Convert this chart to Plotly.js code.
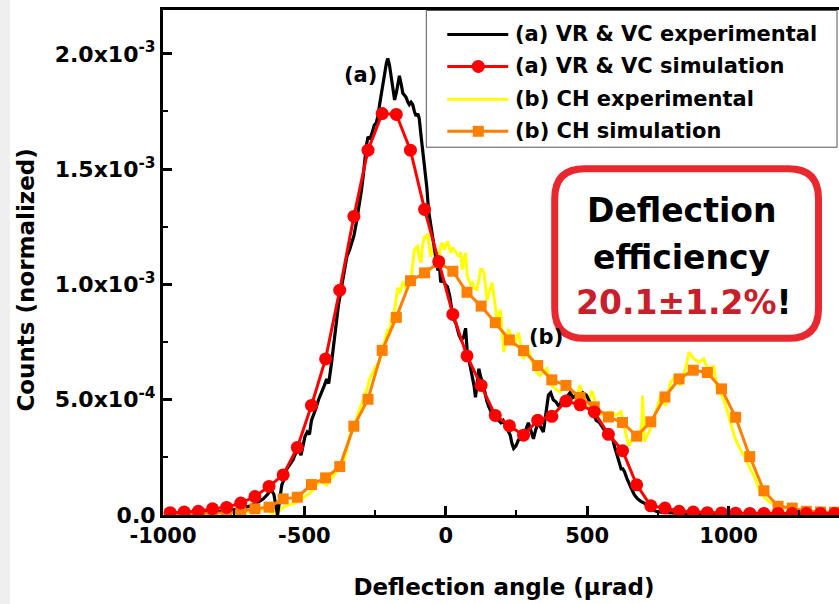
<!DOCTYPE html>
<html>
<head>
<meta charset="utf-8">
<script src="https://cdn.plot.ly/plotly-3.0.1.min.js"></script>
<style>
html,body{margin:0;padding:0;overflow:hidden;}
body{background:linear-gradient(to right,#efefef 0px,#efefef 10px,#ffffff 10px);width:839px;height:604px;}
#chart{width:845px;height:604px;}
</style>
</head>
<body>
<div id="chart"></div>
<script>
// values in units of 1e-3 (normalized counts)
const blackExp = [[-995,0.005],[-960,0.006],[-920,0.008],[-880,0.010],[-840,0.012],[-800,0.015],[-760,0.02],[-720,0.03],[-690,0.04],[-665,0.055],[-645,0.07],[-630,0.09],[-618,0.11],[-608,0.09],[-600,0.02],[-595,0.0],[-588,0.06],[-580,0.13],[-570,0.16],[-562,0.20],[-551,0.22],[-540,0.24],[-530,0.27],[-520,0.28],[-512,0.26],[-505,0.30],[-498,0.34],[-490,0.36],[-482,0.35],[-475,0.41],[-468,0.43],[-460,0.46],[-450,0.50],[-439,0.53],[-430,0.56],[-421,0.59],[-414,0.57],[-404,0.66],[-398,0.72],[-393,0.79],[-386,0.84],[-380,0.906],[-374,0.95],[-368,0.99],[-360,1.05],[-350,1.12],[-340,1.15],[-333,1.18],[-325,1.21],[-316,1.27],[-306,1.34],[-298,1.41],[-292,1.47],[-287,1.54],[-281,1.60],[-275,1.64],[-268,1.63],[-260,1.66],[-253,1.69],[-246,1.70],[-240,1.73],[-234,1.78],[-228,1.83],[-222,1.88],[-216,1.93],[-210,1.96],[-205,1.98],[-199,1.95],[-193,1.90],[-187,1.84],[-181,1.80],[-175,1.83],[-170,1.87],[-164,1.905],[-158,1.87],[-152,1.83],[-146,1.82],[-140,1.81],[-134,1.79],[-129,1.78],[-123,1.79],[-117,1.78],[-111,1.75],[-105,1.73],[-99,1.74],[-94,1.72],[-88,1.65],[-82,1.58],[-77,1.55],[-73,1.50],[-67,1.42],[-61,1.32],[-54,1.26],[-47,1.21],[-41,1.17],[-35,1.11],[-28,1.06],[-23,1.09],[-18,1.01],[-10,1.02],[-2,1.00],[6,0.99],[14,0.95],[20,0.90],[28,0.85],[36,0.83],[42,0.80],[47,0.78],[55,0.76],[63,0.77],[70,0.81],[76,0.705],[84,0.66],[94,0.605],[100,0.56],[105,0.51],[111,0.57],[117,0.634],[123,0.60],[129,0.58],[135,0.55],[140,0.52],[146,0.49],[152,0.47],[158,0.45],[164,0.43],[170,0.42],[178,0.43],[187,0.41],[195,0.40],[203,0.41],[211,0.39],[220,0.37],[228,0.346],[234,0.31],[240,0.289],[248,0.30],[257,0.325],[266,0.33],[275,0.346],[283,0.37],[292,0.40],[300,0.37],[310,0.33],[318,0.37],[327,0.40],[336,0.38],[345,0.36],[354,0.44],[363,0.52],[371,0.53],[380,0.50],[390,0.49],[400,0.47],[408,0.49],[415,0.50],[427,0.51],[439,0.53],[450,0.51],[462,0.52],[474,0.50],[485,0.53],[497,0.52],[509,0.49],[520,0.45],[532,0.41],[544,0.40],[556,0.375],[565,0.36],[573,0.346],[582,0.34],[590,0.33],[596,0.30],[602,0.275],[608,0.24],[614,0.217],[620,0.20],[626,0.20],[632,0.188],[640,0.16],[649,0.13],[658,0.11],[667,0.087],[678,0.07],[690,0.059],[702,0.05],[713,0.044],[722,0.03],[731,0.023],[745,0.015],[760,0.012],[780,0.010],[800,0.008],[830,0.007],[860,0.006],[890,0.006],[920,0.005],[950,0.005],[980,0.005],[1000,0.005]];

const yellowExp = [[-995,0.0],[-950,0.002],[-900,0.004],[-850,0.005],[-800,0.008],[-760,0.010],[-720,0.012],[-690,0.015],[-660,0.02],[-640,0.025],[-620,0.015],[-608,0.0],[-600,0.0],[-592,0.01],[-579,0.03],[-565,0.04],[-550,0.044],[-535,0.05],[-520,0.06],[-505,0.075],[-491,0.088],[-476,0.10],[-462,0.12],[-446,0.146],[-434,0.14],[-421,0.13],[-412,0.15],[-404,0.16],[-392,0.18],[-380,0.20],[-368,0.22],[-357,0.246],[-348,0.29],[-339,0.346],[-330,0.37],[-322,0.39],[-313,0.43],[-304,0.46],[-296,0.49],[-287,0.52],[-278,0.55],[-269,0.59],[-262,0.61],[-257,0.62],[-250,0.64],[-244,0.648],[-236,0.66],[-228,0.70],[-216,0.75],[-210,0.78],[-205,0.806],[-199,0.78],[-193,0.85],[-187,0.87],[-181,0.89],[-175,0.94],[-170,0.986],[-164,0.96],[-158,0.99],[-152,1.007],[-146,1.00],[-141,0.98],[-135,0.993],[-129,1.00],[-123,1.02],[-117,1.10],[-111,1.15],[-105,1.16],[-100,1.165],[-94,1.12],[-88,1.094],[-82,1.17],[-76,1.21],[-70,1.20],[-64,1.22],[-58,1.16],[-53,1.12],[-47,1.16],[-41,1.15],[-35,1.11],[-29,1.094],[-23,1.13],[-17,1.17],[-12,1.18],[-5,1.15],[0,1.17],[6,1.187],[12,1.16],[18,1.137],[24,1.16],[30,1.15],[36,1.14],[41,1.13],[47,1.12],[53,1.14],[58,1.065],[64,1.10],[70,1.137],[76,1.036],[82,1.02],[88,1.00],[94,1.007],[99,0.99],[105,0.98],[111,0.978],[117,1.02],[123,1.065],[129,1.065],[135,1.05],[141,0.99],[146,0.93],[152,0.96],[158,0.99],[164,1.007],[170,0.95],[175,0.90],[181,0.85],[187,0.87],[193,0.89],[199,0.80],[205,0.706],[213,0.76],[222,0.806],[231,0.77],[240,0.734],[248,0.76],[257,0.79],[266,0.73],[275,0.677],[283,0.70],[292,0.72],[301,0.68],[310,0.648],[321,0.62],[333,0.605],[345,0.62],[357,0.634],[366,0.60],[375,0.562],[390,0.545],[404,0.533],[418,0.55],[433,0.562],[448,0.53],[462,0.504],[468,0.53],[474,0.562],[485,0.52],[497,0.475],[509,0.51],[515,0.533],[520,0.53],[526,0.50],[532,0.45],[544,0.44],[556,0.432],[568,0.44],[579,0.447],[590,0.44],[602,0.432],[611,0.44],[620,0.447],[628,0.40],[637,0.346],[643,0.32],[649,0.30],[655,0.32],[661,0.33],[670,0.34],[678,0.346],[687,0.33],[693,0.40],[696,0.518],[699,0.42],[702,0.318],[710,0.34],[719,0.36],[731,0.40],[743,0.447],[752,0.48],[760,0.518],[769,0.49],[778,0.475],[787,0.53],[795,0.576],[804,0.59],[813,0.605],[822,0.58],[830,0.562],[840,0.60],[848,0.634],[854,0.67],[860,0.706],[868,0.69],[877,0.677],[886,0.67],[895,0.663],[904,0.67],[912,0.677],[921,0.65],[930,0.634],[939,0.64],[947,0.648],[953,0.60],[959,0.547],[968,0.53],[977,0.518],[988,0.48],[1000,0.432],[1012,0.38],[1024,0.33],[1035,0.30],[1047,0.275],[1058,0.25],[1070,0.217],[1082,0.19],[1094,0.159],[1102,0.13],[1111,0.102],[1120,0.085],[1129,0.073],[1140,0.06],[1152,0.052],[1166,0.048],[1181,0.044],[1196,0.035],[1211,0.03],[1230,0.02],[1260,0.015],[1290,0.012],[1320,0.010],[1350,0.008],[1380,0.008],[1410,0.008]];

const simX = [-975,-925,-875,-825,-775,-725,-675,-625,-575,-525,-475,-425,-375,-325,-275,-225,-175,-125,-75,-25,25,75,125,175,225,275,325,375,425,475,525,575,625,675,725,775,825,875,925,975,1025,1075,1125,1175,1225,1275,1325,1375];
const redSim = [0.010,0.013,0.016,0.027,0.033,0.052,0.080,0.124,0.174,0.293,0.475,0.677,0.975,1.295,1.582,1.741,1.737,1.582,1.325,1.099,0.870,0.690,0.562,0.432,0.387,0.346,0.411,0.428,0.494,0.478,0.447,0.350,0.279,0.131,0.040,0.030,0.016,0.013,0.010,0.009,0.008,0.007,0.007,0.007,0.006,0.006,0.006,0.006];
const orangeSim = [0.004,0.005,0.006,0.008,0.010,0.016,0.027,0.034,0.070,0.077,0.132,0.161,0.210,0.385,0.502,0.714,0.857,1.016,1.050,1.095,1.057,0.966,0.906,0.834,0.759,0.713,0.648,0.586,0.562,0.510,0.469,0.425,0.401,0.342,0.404,0.512,0.590,0.628,0.618,0.547,0.424,0.253,0.105,0.038,0.030,0.016,0.013,0.012];

const seriesNames = ['(a) VR & VC experimental','(a) VR & VC simulation','(b) CH experimental','(b) CH simulation'];
const seriesColors = ['#000000','#ff0000','#ffff00','#ff7f00'];
const yTickVals = [0,0.5,1.0,1.5,2.0];
const yTickText = ['0.0','5.0x10<sup>-4</sup>','1.0x10<sup>-3</sup>','1.5x10<sup>-3</sup>','2.0x10<sup>-3</sup>'];
const xTickVals = [-1000,-500,0,500,1000];
const xTickText = ['-1000','-500','0','500','1000'];

const FONT = 'DejaVu Sans, Verdana, sans-serif';

const traces = [
  {x: yellowExp.map(p=>p[0]), y: yellowExp.map(p=>p[1]), name: seriesNames[2], mode:'lines',
   line:{color:seriesColors[2], width:3}},
  {x: blackExp.map(p=>p[0]), y: blackExp.map(p=>p[1]), name: seriesNames[0], mode:'lines',
   line:{color:seriesColors[0], width:3.2}},
  {x: simX, y: orangeSim, name: seriesNames[3], mode:'lines+markers',
   line:{color:seriesColors[3], width:3}, marker:{symbol:'square', size:11, color:seriesColors[3]}},
  {x: simX, y: redSim, name: seriesNames[1], mode:'lines+markers',
   line:{color:seriesColors[1], width:3}, marker:{symbol:'circle', size:13, color:seriesColors[1]}}
];

// plot-area geometry in pixels (used to place the legend box and the text box)
const L = 162.5, T = 9.5, W = 845 - 162.5, H = 506;
const pxX = v => (v - L) / W;
const pxY = v => (T + H - v) / H;
function roundRect(x1, y1, x2, y2, r) {
  const P = (x, y) => pxX(x).toFixed(5) + ',' + pxY(y).toFixed(5);
  return 'M' + P(x1 + r, y1) + ' L' + P(x2 - r, y1) + ' Q' + P(x2, y1) + ' ' + P(x2, y1 + r) +
    ' L' + P(x2, y2 - r) + ' Q' + P(x2, y2) + ' ' + P(x2 - r, y2) +
    ' L' + P(x1 + r, y2) + ' Q' + P(x1, y2) + ' ' + P(x1, y2 - r) +
    ' L' + P(x1, y1 + r) + ' Q' + P(x1, y1) + ' ' + P(x1 + r, y1) + ' Z';
}

const bold = (size, color) => ({family: FONT, size: size, color: color || '#000', weight: 'bold'});

// custom legend (line samples + markers + labels)
const legRows = [34, 66, 99, 131];
const legShapes = [
  {type:'rect', xref:'paper', yref:'paper', x0:pxX(426), x1:pxX(837), y0:pxY(10), y1:pxY(147),
   line:{color:'#555555', width:1}, fillcolor:'#ffffff', layer:'above'}
];
const legAnn = [];
legRows.forEach((ry, i) => {
  legShapes.push({type:'line', xref:'paper', yref:'paper', x0:pxX(447), x1:pxX(508), y0:pxY(ry), y1:pxY(ry),
    line:{color:seriesColors[i], width:3}, layer:'above'});
  if (i === 1) legShapes.push({type:'circle', xref:'paper', yref:'paper', x0:pxX(471.5), x1:pxX(484.5), y0:pxY(ry+6.5), y1:pxY(ry-6.5),
    line:{width:0}, fillcolor:seriesColors[1], layer:'above'});
  if (i === 3) legShapes.push({type:'rect', xref:'paper', yref:'paper', x0:pxX(472.5), x1:pxX(483.5), y0:pxY(ry+5.5), y1:pxY(ry-5.5),
    line:{width:0}, fillcolor:seriesColors[3], layer:'above'});
  legAnn.push({xref:'paper', yref:'paper', x:pxX(513), y:pxY(ry), xanchor:'left', yanchor:'middle',
    text: seriesNames[i].replace('&','&amp;'), showarrow:false, font: bold(21)});
});

const layout = {
  width: 845, height: 604,
  margin: {l: L, r: 0, t: T, b: 604 - T - H, pad: 0},
  paper_bgcolor: 'rgba(0,0,0,0)',
  plot_bgcolor: '#ffffff',
  showlegend: false,
  xaxis: {
    range: [-1000, 1411.7], tickmode: 'array', tickvals: xTickVals, ticktext: xTickText,
    ticks: 'inside', ticklen: 9, tickwidth: 3, tickcolor: '#000',
    minor: {ticks: 'inside', ticklen: 5, tickwidth: 2, tickcolor: '#000', tickvals: [-750,-250,250,750,1250]},
    showline: true, linewidth: 3, linecolor: '#000', mirror: true,
    showgrid: false, zeroline: false,
    tickfont: bold(21),
    title: {text: 'Deflection angle (\u00b5rad)', font: bold(23), standoff: 32}
  },
  yaxis: {
    range: [0, 2.19], tickmode: 'array', tickvals: yTickVals, ticktext: yTickText,
    ticks: 'inside', ticklen: 9, tickwidth: 3, tickcolor: '#000',
    minor: {ticks: 'inside', ticklen: 5, tickwidth: 2, tickcolor: '#000', tickvals: [0.25,0.75,1.25,1.75]},
    showline: true, linewidth: 3, linecolor: '#000', mirror: true,
    showgrid: false, zeroline: false,
    tickfont: bold(22)
  },
  shapes: [
    {type: 'path', xref: 'paper', yref: 'paper', path: roundRect(554.5, 168.5, 818.5, 338.5, 30),
     line: {color: '#e8282e', width: 7}, fillcolor: '#ffffff', layer: 'above'}
  ].concat(legShapes),
  annotations: [
    {xref:'paper', yref:'paper', x: pxX(25), y: pxY(280), xanchor:'center', yanchor:'middle',
     text: 'Counts (normalized)', textangle: -90, showarrow: false, font: bold(23)},
    {x: -300, y: 1.906, xref: 'x', yref: 'y', xanchor:'center', yanchor:'middle', text: '(a)', showarrow: false, font: bold(21)},
    {x: 353, y: 0.772, xref: 'x', yref: 'y', xanchor:'center', yanchor:'middle', text: '(b)', showarrow: false, font: bold(21)},
    {xref:'paper', yref:'paper', x: pxX(681), y: pxY(210), xanchor:'center', yanchor:'middle', text: 'Deflection', showarrow: false, font: bold(33)},
    {xref:'paper', yref:'paper', x: pxX(681), y: pxY(257), xanchor:'center', yanchor:'middle', text: 'efficiency', showarrow: false, font: bold(33)},
    {xref:'paper', yref:'paper', x: pxX(684), y: pxY(303), xanchor:'center', yanchor:'middle', text: '<span style="color:#c8202a">20.1\u00b11.2%</span>!', showarrow: false, font: bold(33)}
  ].concat(legAnn)
};

Plotly.newPlot('chart', traces, layout, {displayModeBar: false, staticPlot: true});
</script>
</body>
</html>
